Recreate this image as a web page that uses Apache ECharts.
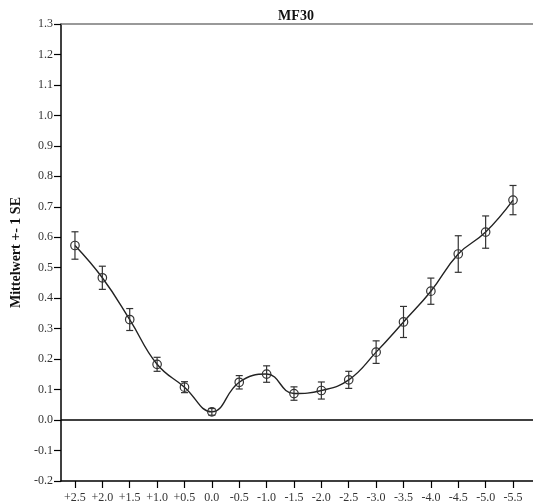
<!DOCTYPE html>
<html>
<head>
<meta charset="utf-8">
<script src="https://cdn.jsdelivr.net/npm/echarts@6/dist/echarts.min.js"></script>
<style>
  html, body { margin: 0; padding: 0; background: #fff; }
  #chart { width: 533px; height: 502px; }
</style>
</head>
<body>
<div id="chart"></div>
<script>
// Stimulus levels along the x axis
var categories = ['+2.5', '+2.0', '+1.5', '+1.0', '+0.5', '0.0', '-0.5', '-1.0', '-1.5',
                  '-2.0', '-2.5', '-3.0', '-3.5', '-4.0', '-4.5', '-5.0', '-5.5'];
// Mean values of MF30 per level
var means = [0.573, 0.467, 0.330, 0.183, 0.108, 0.027, 0.124, 0.151, 0.087,
             0.097, 0.132, 0.223, 0.322, 0.423, 0.545, 0.617, 0.722];
// Standard error for each mean
var stdErr = [0.045, 0.038, 0.036, 0.023, 0.018, 0.011, 0.022, 0.027, 0.022,
              0.028, 0.028, 0.037, 0.051, 0.043, 0.060, 0.053, 0.048];
// Y tick labels
var yTicks = ['-0.2', '-0.1', '0.0', '0.1', '0.2', '0.3', '0.4', '0.5', '0.6', '0.7',
              '0.8', '0.9', '1.0', '1.1', '1.2', '1.3'];

var FONT = '"Liberation Serif", "Times New Roman", serif';
var idx = categories.map(function (c, i) { return i; });
var lineData = means.map(function (m, i) { return [i, m]; });
var errData = means.map(function (m, i) { return [i, m - stdErr[i], m + stdErr[i]]; });

var chart = echarts.init(document.getElementById('chart'), null, { renderer: 'canvas' });

chart.setOption({
  animation: false,
  backgroundColor: '#ffffff',
  title: {
    text: 'MF30',
    left: 291,
    textAlign: 'center',
    top: 4,
    textStyle: { fontFamily: FONT, fontSize: 14, fontWeight: 'bold', color: '#111' }
  },
  grid: { left: 61, top: 24, right: 0, bottom: 21, outerBoundsMode: 'none', containLabel: false },
  xAxis: {
    type: 'value',
    min: -0.51,
    max: 16.73,
    splitLine: { show: false },
    axisLine: { show: true, onZero: false, lineStyle: { color: '#000', width: 1.5 } },
    axisTick: {
      show: true, length: 7, inside: false,
      customValues: idx,
      lineStyle: { color: '#000', width: 1.2 }
    },
    axisLabel: {
      customValues: idx,
      formatter: function (v) { return categories[Math.round(v)]; },
      fontFamily: FONT, fontSize: 12, color: '#333', margin: 11
    }
  },
  yAxis: {
    type: 'value',
    min: -0.2,
    max: 1.3,
    interval: 0.1,
    name: 'Mittelwert +- 1 SE',
    nameLocation: 'middle',
    nameGap: 36,
    nameTextStyle: { fontFamily: FONT, fontSize: 14, fontWeight: 'bold', color: '#111' },
    splitLine: { show: false },
    axisLine: { show: true, onZero: false, lineStyle: { color: '#000', width: 1.5 } },
    axisTick: { show: true, length: 7, lineStyle: { color: '#000', width: 1.2 } },
    axisLabel: {
      formatter: function (v) { return yTicks[Math.round((v + 0.2) * 10)]; },
      fontFamily: FONT, fontSize: 12, color: '#333', margin: 8
    }
  },
  series: [
    {
      type: 'line',
      data: lineData,
      smooth: 0.45,
      symbol: 'circle',
      symbolSize: 8.5,
      itemStyle: { color: 'rgba(255,255,255,0)', borderColor: '#333', borderWidth: 1.2 },
      lineStyle: { color: '#222', width: 1.4 },
      z: 3,
      markLine: {
        silent: true,
        symbol: 'none',
        label: { show: false },
        data: [
          { yAxis: 0, lineStyle: { color: '#000', width: 1.5, type: 'solid' } },
          { yAxis: 1.3, lineStyle: { color: '#777', width: 1.5, type: 'solid' } }
        ]
      }
    },
    {
      type: 'custom',
      data: errData,
      z: 4,
      renderItem: function (params, api) {
        var x = api.value(0);
        var lo = api.coord([x, api.value(1)]);
        var hi = api.coord([x, api.value(2)]);
        var hw = 3.5;
        var style = { stroke: '#333', lineWidth: 1.2 };
        return {
          type: 'group',
          children: [
            { type: 'line', shape: { x1: lo[0], y1: lo[1], x2: hi[0], y2: hi[1] }, style: style },
            { type: 'line', shape: { x1: lo[0] - hw, y1: lo[1], x2: lo[0] + hw, y2: lo[1] }, style: style },
            { type: 'line', shape: { x1: hi[0] - hw, y1: hi[1], x2: hi[0] + hw, y2: hi[1] }, style: style }
          ]
        };
      }
    }
  ]
});
</script>
</body>
</html>
